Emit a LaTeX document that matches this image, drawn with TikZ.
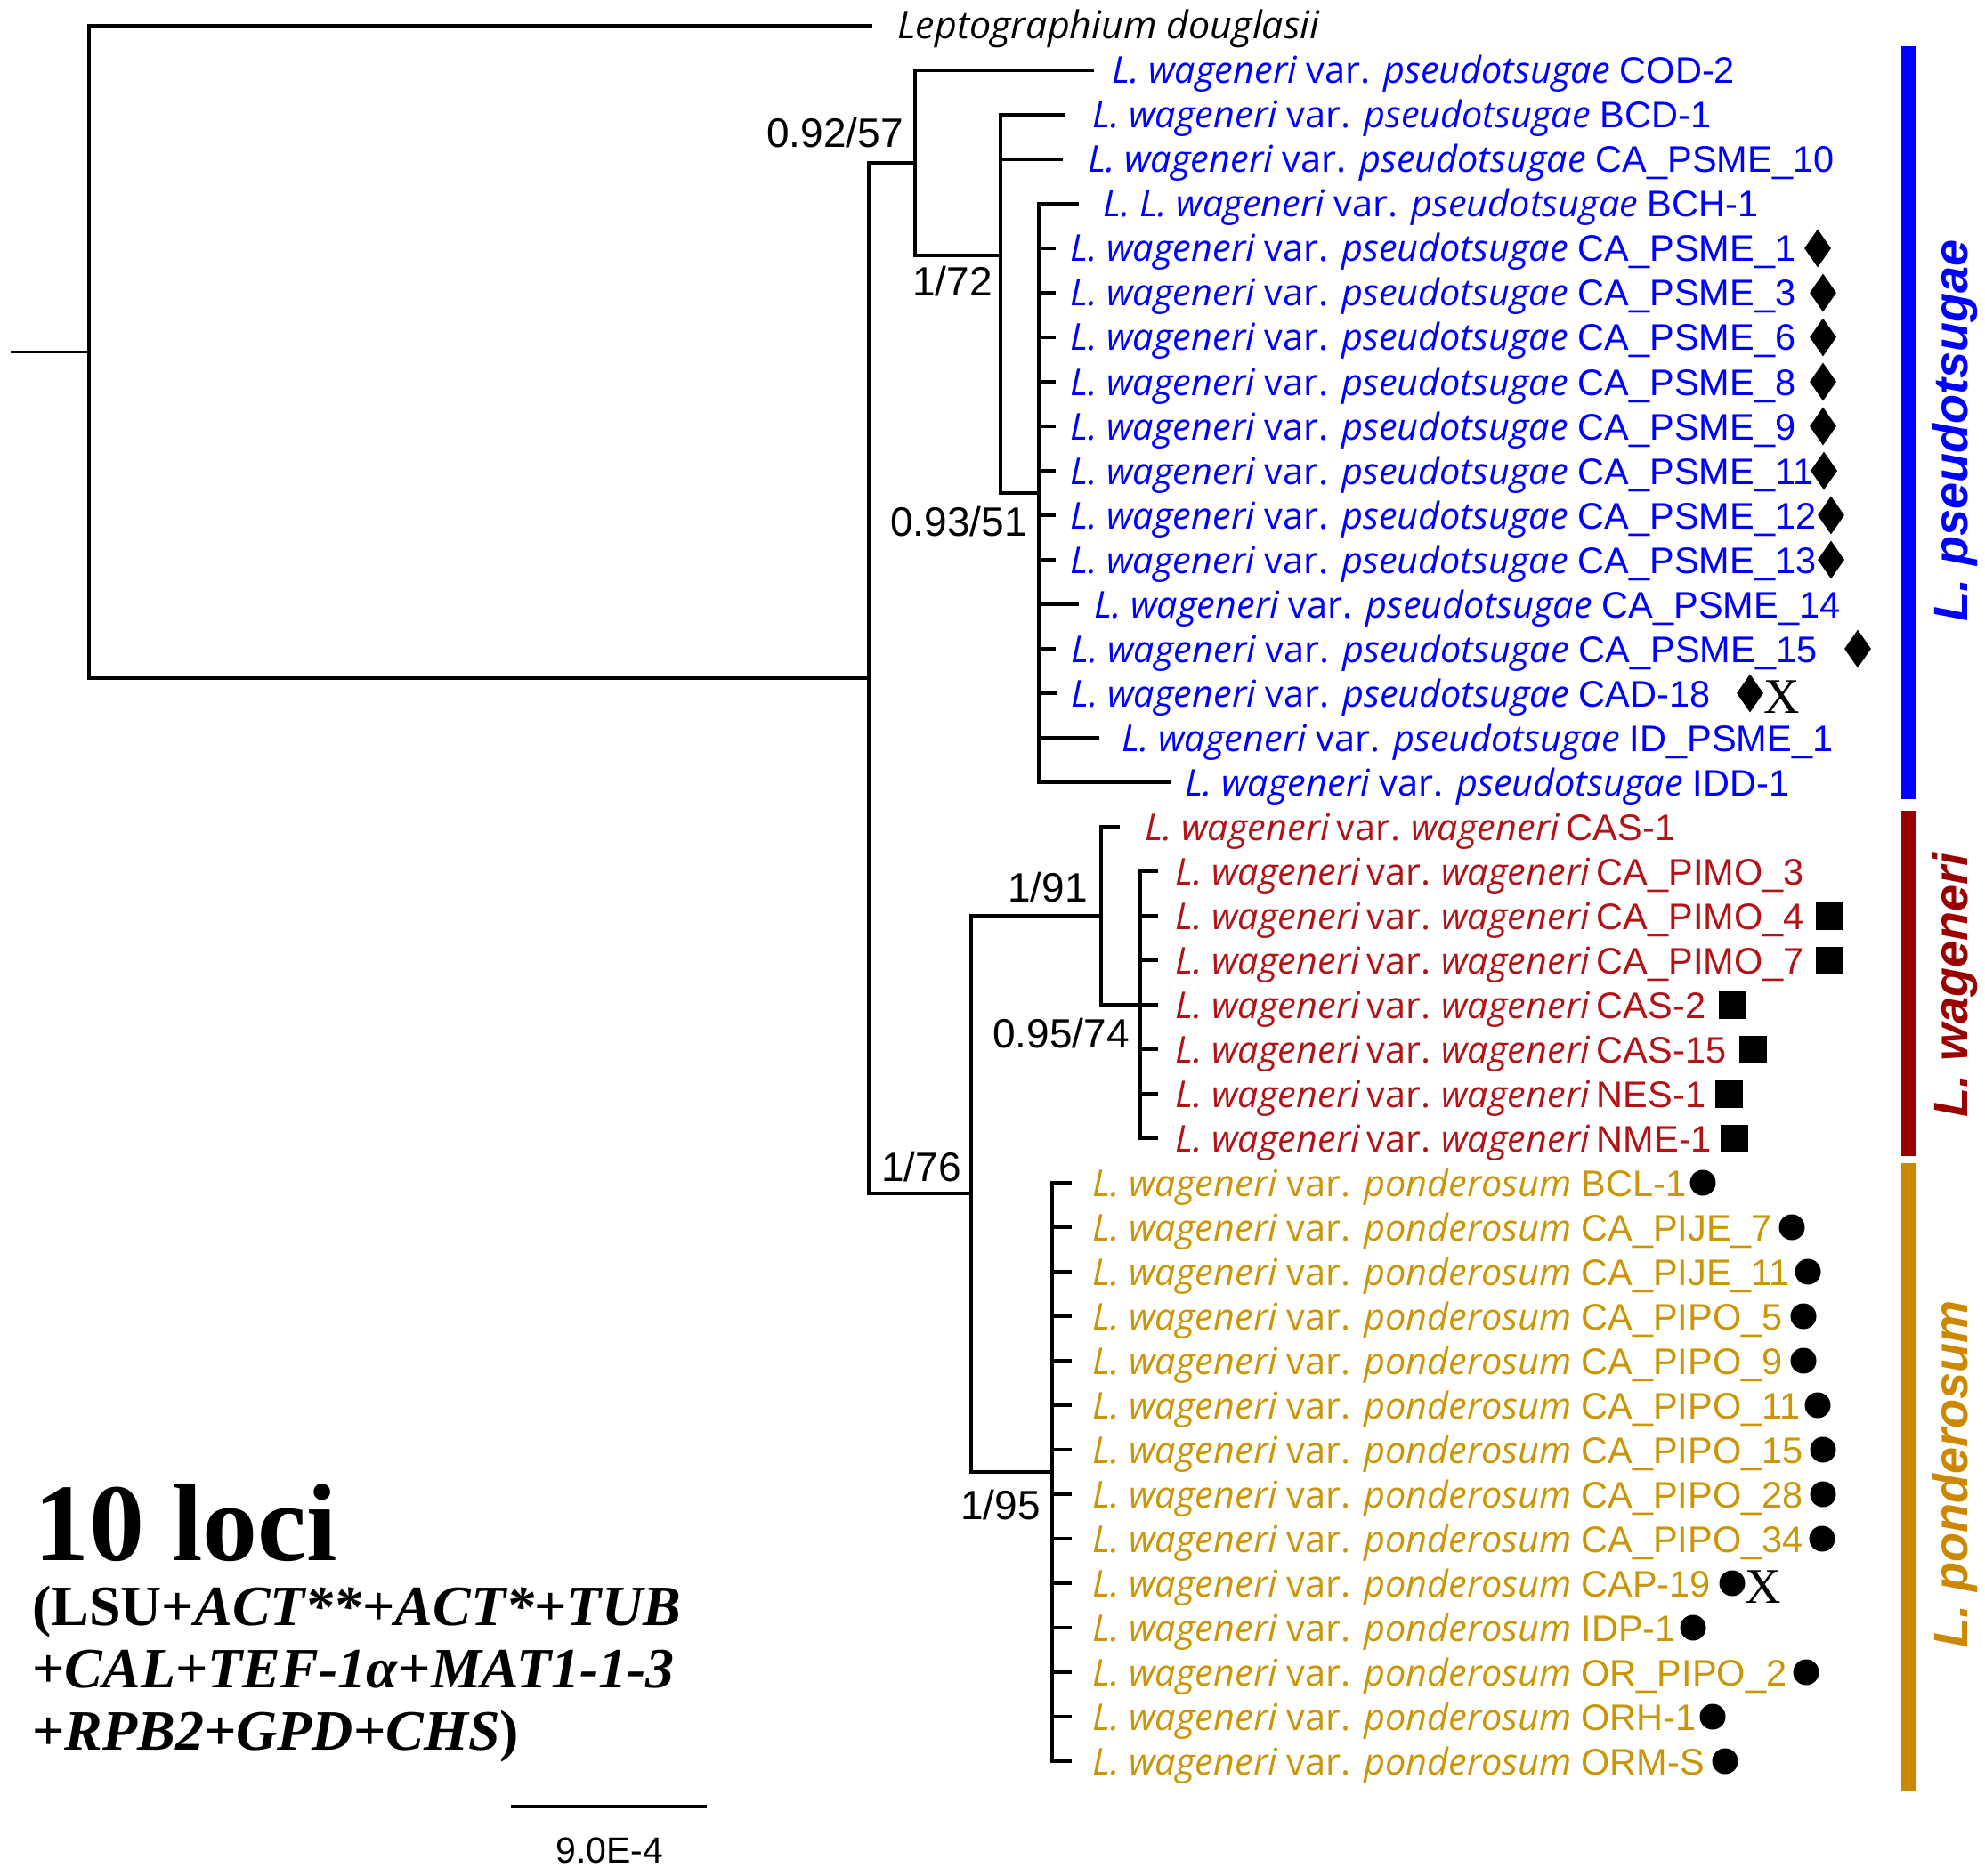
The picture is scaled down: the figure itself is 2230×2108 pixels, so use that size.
\documentclass[tikz,border=0pt]{standalone}
\usepackage{fontspec}
\usetikzlibrary{shapes.geometric}
\newfontfamily\osfont{Open Sans}
\newfontfamily\arfont{Liberation Sans}
\newfontfamily\tmfont{Liberation Serif}
\definecolor{pblue}{RGB}{0,0,255}
\definecolor{wred}{RGB}{176,20,24}
\definecolor{wbar}{RGB}{153,0,0}
\definecolor{pgold}{RGB}{202,150,8}
\definecolor{pbar}{RGB}{204,136,0}
\newcommand\taxfont{\osfont\fontsize{41.5}{44}\selectfont}
\newcommand\codefont{\arfont\fontsize{41.5}{44}\selectfont}
\newcommand\supfont{\arfont\fontsize{46}{50}\selectfont}
\newcommand\Lw[2]{{\itshape L. wageneri} var. {\itshape #1}\ {\codefont #2}}
\newcommand\Lww[1]{{\itshape L. wageneri}\hspace{-3pt} var.\hspace{-3pt} {\itshape wageneri}\hspace{8pt}{\codefont #1}}
\newcommand\leaf[6]{%
  \coordinate (#1) at (#3,{29+50*#5});
  \draw[br] (#2) |- (#1);
  \node[lbl] (#1-l) at (#4,{29+50*#5+15}) {#6};}
\newcommand\mk[4]{\node[#2] (#1-m) at (#3,{29+50*#4}) {};}
\newcommand\mx[3]{\node[xmark] (#1-x) at (#2,{29+50*#3+22}) {X};}
\begin{document}
\begin{tikzpicture}[x=1pt,y=-1pt,
  br/.style={line width=3.4pt,line cap=rect,black},
  lbl/.style={anchor=base west,inner sep=0pt,font=\taxfont},
  sup/.style={anchor=base east,inner sep=0pt,font=\supfont},
  dia/.style={diamond,fill=black,inner sep=0pt,minimum width=30pt,minimum height=43pt},
  sq/.style={rectangle,fill=black,inner sep=0pt,minimum size=31pt},
  dot/.style={circle,fill=black,inner sep=0pt,minimum size=29pt},
  xmark/.style={anchor=base,inner sep=0pt,font=\tmfont\fontsize{56}{58}\selectfont},
  clade/.style={anchor=base,rotate=90,inner sep=0pt,font=\arfont\bfseries\itshape\fontsize{54}{56}\selectfont}]
\useasboundingbox (0,0) rectangle (2230,2108);
% internal nodes
\coordinate (stub) at (14,395.5);
\coordinate (root) at (100,395.5);
\coordinate (n1) at (976,762);
\coordinate (n2) at (1028,183);
\coordinate (n3) at (1124,287);
\coordinate (n4) at (1167,554);
\coordinate (n5) at (1091,1341);
\coordinate (n6) at (1237,1029);
\coordinate (n7) at (1281,1129);
\coordinate (n8) at (1182,1654);
\draw[br] (stub) -- (root);
\draw[br] (root) |- (n1);
\draw[br] (n1) |- (n2);
\draw[br] (n1) |- (n5);
\draw[br] (n2) |- (n3);
\draw[br] (n3) |- (n4);
\draw[br] (n5) |- (n6);
\draw[br] (n5) |- (n8);
\draw[br] (n6) |- (n7);
% outgroup
\leaf{t0}{root}{978}{1008}{0}{\fontsize{43}{46}\selectfont\itshape Leptographium douglasii}
% pseudotsugae
\begin{scope}[lbl/.append style={text=pblue}]
\leaf{t1}{n2}{1227}{1249}{1}{\Lw{pseudotsugae}{COD-2}}
\leaf{t2}{n3}{1195}{1227}{2}{\Lw{pseudotsugae}{BCD-1}}
\leaf{t3}{n3}{1192}{1222}{3}{\Lw{pseudotsugae}{CA\_PSME\_10}}
\leaf{t4}{n4}{1210}{1239}{4}{{\itshape L. L. wageneri} var. {\itshape pseudotsugae}\ {\codefont BCH-1}}
\leaf{t5}{n4}{1184}{1202}{5}{\Lw{pseudotsugae}{CA\_PSME\_1}}
\leaf{t6}{n4}{1184}{1202}{6}{\Lw{pseudotsugae}{CA\_PSME\_3}}
\leaf{t7}{n4}{1184}{1202}{7}{\Lw{pseudotsugae}{CA\_PSME\_6}}
\leaf{t8}{n4}{1184}{1202}{8}{\Lw{pseudotsugae}{CA\_PSME\_8}}
\leaf{t9}{n4}{1184}{1202}{9}{\Lw{pseudotsugae}{CA\_PSME\_9}}
\leaf{t10}{n4}{1184}{1202}{10}{\Lw{pseudotsugae}{CA\_PSME\_11}}
\leaf{t11}{n4}{1184}{1202}{11}{\Lw{pseudotsugae}{CA\_PSME\_12}}
\leaf{t12}{n4}{1184}{1202}{12}{\Lw{pseudotsugae}{CA\_PSME\_13}}
\leaf{t13}{n4}{1210}{1229}{13}{\Lw{pseudotsugae}{CA\_PSME\_14}}
\leaf{t14}{n4}{1184}{1203}{14}{\Lw{pseudotsugae}{CA\_PSME\_15}}
\leaf{t15}{n4}{1185}{1203}{15}{\Lw{pseudotsugae}{CAD-18}}
\leaf{t16}{n4}{1233}{1260}{16}{\Lw{pseudotsugae}{ID\_PSME\_1}}
\leaf{t17}{n4}{1313}{1331}{17}{\Lw{pseudotsugae}{IDD-1}}
\end{scope}
% wageneri
\begin{scope}[lbl/.append style={text=wred}]
\leaf{t18}{n6}{1256}{1286}{18}{\Lww{CAS-1}}
\leaf{t19}{n7}{1299}{1320}{19}{\Lww{CA\_PIMO\_3}}
\leaf{t20}{n7}{1299}{1320}{20}{\Lww{CA\_PIMO\_4}}
\leaf{t21}{n7}{1299}{1320}{21}{\Lww{CA\_PIMO\_7}}
\leaf{t22}{n7}{1299}{1320}{22}{\Lww{CAS-2}}
\leaf{t23}{n7}{1299}{1320}{23}{\Lww{CAS-15}}
\leaf{t24}{n7}{1299}{1320}{24}{\Lww{NES-1}}
\leaf{t25}{n7}{1299}{1320}{25}{\Lww{NME-1}}
\end{scope}
% ponderosum
\begin{scope}[lbl/.append style={text=pgold}]
\leaf{t26}{n8}{1202}{1227}{26}{\Lw{ponderosum}{BCL-1}}
\leaf{t27}{n8}{1202}{1227}{27}{\Lw{ponderosum}{CA\_PIJE\_7}}
\leaf{t28}{n8}{1202}{1227}{28}{\Lw{ponderosum}{CA\_PIJE\_11}}
\leaf{t29}{n8}{1202}{1227}{29}{\Lw{ponderosum}{CA\_PIPO\_5}}
\leaf{t30}{n8}{1202}{1227}{30}{\Lw{ponderosum}{CA\_PIPO\_9}}
\leaf{t31}{n8}{1202}{1227}{31}{\Lw{ponderosum}{CA\_PIPO\_11}}
\leaf{t32}{n8}{1202}{1227}{32}{\Lw{ponderosum}{CA\_PIPO\_15}}
\leaf{t33}{n8}{1202}{1227}{33}{\Lw{ponderosum}{CA\_PIPO\_28}}
\leaf{t34}{n8}{1202}{1227}{34}{\Lw{ponderosum}{CA\_PIPO\_34}}
\leaf{t35}{n8}{1202}{1227}{35}{\Lw{ponderosum}{CAP-19}}
\leaf{t36}{n8}{1202}{1227}{36}{\Lw{ponderosum}{IDP-1}}
\leaf{t37}{n8}{1202}{1227}{37}{\Lw{ponderosum}{OR\_PIPO\_2}}
\leaf{t38}{n8}{1202}{1227}{38}{\Lw{ponderosum}{ORH-1}}
\leaf{t39}{n8}{1202}{1227}{39}{\Lw{ponderosum}{ORM-S}}
\end{scope}
% markers
\mk{t5}{dia}{2042}{5}
\mk{t6}{dia}{2048}{6}
\mk{t7}{dia}{2048}{7}
\mk{t8}{dia}{2048}{8}
\mk{t9}{dia}{2048}{9}
\mk{t10}{dia}{2049}{10}
\mk{t11}{dia}{2057}{11}
\mk{t12}{dia}{2057}{12}
\mk{t14}{dia}{2087}{14}
\mk{t15}{dia}{1966}{15}
\mx{t15}{2002}{15}
\mk{t20}{sq}{2055}{20}
\mk{t21}{sq}{2055}{21}
\mk{t22}{sq}{1946}{22}
\mk{t23}{sq}{1969}{23}
\mk{t24}{sq}{1942}{24}
\mk{t25}{sq}{1948}{25}
\mk{t26}{dot}{1913}{26}
\mk{t27}{dot}{2013}{27}
\mk{t28}{dot}{2031}{28}
\mk{t29}{dot}{2026}{29}
\mk{t30}{dot}{2026}{30}
\mk{t31}{dot}{2042}{31}
\mk{t32}{dot}{2048}{32}
\mk{t33}{dot}{2048}{33}
\mk{t34}{dot}{2047}{34}
\mk{t35}{dot}{1946}{35}
\mx{t35}{1981}{35}
\mk{t36}{dot}{1902}{36}
\mk{t37}{dot}{2029}{37}
\mk{t38}{dot}{1924}{38}
\mk{t39}{dot}{1938}{39}
% support values
\node[sup] (s2) at (1015,166) {0.92/57};
\node[sup] (s3) at (1115,333) {1/72};
\node[sup] (s4) at (1154,602) {0.93/51};
\node[sup] (s6) at (1222,1013) {1/91};
\node[sup] (s7) at (1269,1177) {0.95/74};
\node[sup] (s5) at (1080,1327) {1/76};
\node[sup] (s8) at (1169,1707) {1/95};
% clade bars
\fill[pblue] (2136,52) rectangle (2152,898);
\fill[wbar] (2136,911) rectangle (2152,1299);
\fill[pbar] (2136,1307) rectangle (2152,2013);
\node[clade,text=pblue] (c1) at (2210,484) {L. pseudotsugae};
\node[clade,text=wbar] (c2) at (2210,1107) {L. wageneri};
\node[clade,text=pbar] (c3) at (2210,1656) {L. ponderosum};
% legend
\node[anchor=base west,inner sep=0pt,font=\tmfont\bfseries\fontsize{124}{128}\selectfont] (loci) at (38,1753) {10 loci};
\begin{scope}[every node/.style={anchor=base west,inner sep=0pt,font=\tmfont\bfseries\fontsize{64}{70}\selectfont}]
\node (g1) at (36,1826) {(LSU+\textit{ACT**}+\textit{ACT*}+\textit{TUB}};
\node (g2) at (36,1896) {+\textit{CAL}+\textit{TEF-1α}+\textit{MAT1-1-3}};
\node (g3) at (36,1966) {+\textit{RPB2}+\textit{GPD}+\textit{CHS})};
\end{scope}
% scale bar
\coordinate (sb1) at (574,2030);
\coordinate (sb2) at (794,2030);
\draw[line width=3.4pt] (sb1) -- (sb2);
\node[anchor=base,inner sep=0pt,font=\arfont\fontsize{41}{44}\selectfont] (sbl) at (685,2093) {9.0E-4};
\end{tikzpicture}
\end{document}
